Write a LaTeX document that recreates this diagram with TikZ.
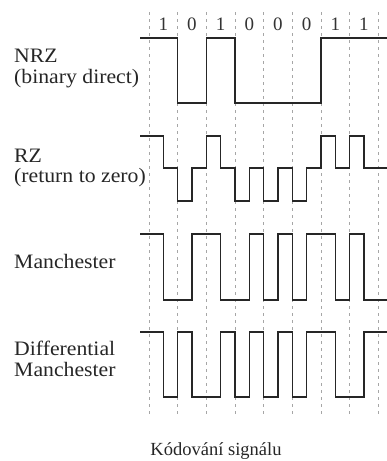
\documentclass[tikz,border=0pt]{standalone}
\usepackage{fontspec}
\setmainfont{Liberation Serif}
\begin{document}
\begin{tikzpicture}[x=1pt,y=-1pt,
  lbl/.style={anchor=base west,inner sep=0pt,xscale=1.06,font=\fontsize{20.5}{24}\selectfont,text=black!85},
  bitlbl/.style={anchor=base,inner sep=0pt,font=\fontsize{19}{22}\selectfont,text=black!80},
  grid/.style={gray!70,line width=0.8pt,dash pattern=on 3pt off 4pt},
  sig/.style={black!85,line width=1.5pt,line join=miter}]
\useasboundingbox (0,0) rectangle (387,461);
% dashed bit boundaries
\foreach \i in {0,...,8}{
  \draw[grid] ({149+28.66*\i},12) -- ({149+28.66*\i},414);
}
% bit labels
\foreach \b [count=\i from 0] in {1,0,1,0,0,0,1,1}{
  \node[bitlbl] (bit\i) at ({163.33+28.66*\i},30) {\b};
}
% labels
\node[lbl] (nrz1) at (14,62) {NRZ};
\node[lbl] (nrz2) at (14,83) {(binary direct)};
\node[lbl] (rz1) at (14,162) {RZ};
\node[lbl] (rz2) at (14,182) {(return to zero)};
\node[lbl] (man) at (14,268) {Manchester};
\node[lbl] (dm1) at (14,355) {Differential};
\node[lbl] (dm2) at (14,376) {Manchester};
\node[anchor=base,inner sep=0pt,font=\fontsize{18.5}{22}\selectfont,text=black!85] (cap) at (216,455) {Kódování signálu};
% NRZ
\draw[sig] (140,38) -- (177.66,38) -- (177.66,103) -- (206.32,103) -- (206.32,38)
  -- (234.98,38) -- (234.98,103) -- (320.96,103) -- (320.96,38) -- (387,38);
% RZ
\draw[sig] (140,136) -- (163.33,136) -- (163.33,168) -- (177.66,168) -- (177.66,201)
  -- (191.99,201) -- (191.99,168) -- (206.32,168) -- (206.32,136) -- (220.65,136)
  -- (220.65,168) -- (234.98,168) -- (234.98,201) -- (249.31,201) -- (249.31,168)
  -- (263.64,168) -- (263.64,201) -- (277.97,201) -- (277.97,168) -- (292.3,168)
  -- (292.3,201) -- (306.63,201) -- (306.63,168) -- (320.96,168) -- (320.96,136)
  -- (335.29,136) -- (335.29,168) -- (349.62,168) -- (349.62,136) -- (363.95,136)
  -- (363.95,168) -- (387,168);
% Manchester
\draw[sig] (140,234) -- (163.33,234) -- (163.33,300) -- (191.99,300) -- (191.99,234)
  -- (220.65,234) -- (220.65,300) -- (249.31,300) -- (249.31,234) -- (263.64,234)
  -- (263.64,300) -- (277.97,300) -- (277.97,234) -- (292.3,234) -- (292.3,300)
  -- (306.63,300) -- (306.63,234) -- (335.29,234) -- (335.29,300) -- (349.62,300)
  -- (349.62,234) -- (363.95,234) -- (363.95,300) -- (387,300);
% Differential Manchester
\draw[sig] (140,332) -- (163.33,332) -- (163.33,397) -- (177.66,397) -- (177.66,332)
  -- (191.99,332) -- (191.99,397) -- (220.65,397) -- (220.65,332) -- (234.98,332)
  -- (234.98,397) -- (249.31,397) -- (249.31,332) -- (263.64,332) -- (263.64,397)
  -- (277.97,397) -- (277.97,332) -- (292.3,332) -- (292.3,397) -- (306.63,397)
  -- (306.63,332) -- (335.29,332) -- (335.29,397) -- (363.95,397) -- (363.95,332)
  -- (387,332);
\end{tikzpicture}
\end{document}
